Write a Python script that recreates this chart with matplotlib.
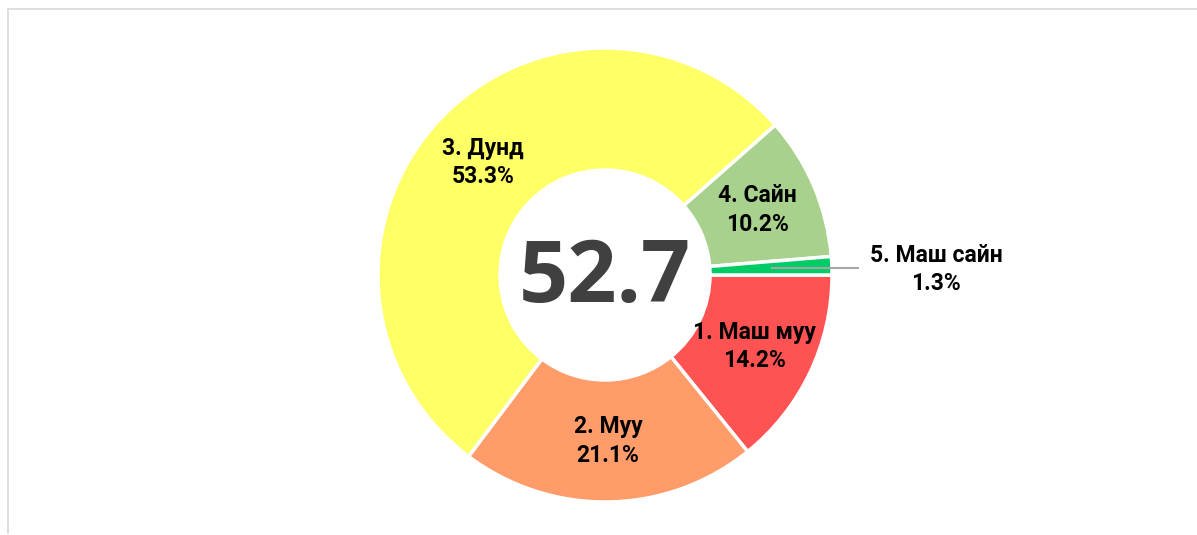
import numpy as np
import matplotlib
matplotlib.use("Agg")
import matplotlib.pyplot as plt
from matplotlib.lines import Line2D

categories = ["1. Маш муу", "2. Муу", "3. Дунд", "4. Сайн", "5. Маш сайн"]
values = [14.2, 21.1, 53.3, 10.2, 1.3]
pct_labels = ["14.2%", "21.1%", "53.3%", "10.2%", "1.3%"]
center_value = "52.7"
colors = ["#FF5252", "#FF9C6A", "#FFFF66", "#A9D18E", "#00CC66"]

W, H = 1197, 535
fig = plt.figure(figsize=(W / 100, H / 100), dpi=100)
fig.patch.set_facecolor("white")

# light frame lines (top and left)
fig.add_artist(Line2D([7.5 / W, 1], [1 - 8.5 / H, 1 - 8.5 / H], transform=fig.transFigure,
                      color="#D9D9D9", lw=1.2))
fig.add_artist(Line2D([7.5 / W, 7.5 / W], [1 - 8.5 / H, 2 / H], transform=fig.transFigure,
                      color="#D9D9D9", lw=1.2))

cx, cy, R = 605, 275, 227
ax = fig.add_axes([(cx - R) / W, (H - cy - R) / H, 2 * R / W, 2 * R / H])
inner = 105 / R
wedges, _ = ax.pie(values, colors=colors, startangle=0, counterclock=False,
                   radius=1, wedgeprops=dict(width=1 - inner, edgecolor="white", linewidth=2.5))
ax.set_xlim(-1, 1)
ax.set_ylim(-1, 1)
ax.set_aspect("equal")
ax.axis("off")

lbl_r = (1 + inner) / 2
font = dict(family=["Roboto", "DejaVu Sans"], fontsize=16.5, fontweight="bold", color="black")
for i, w in enumerate(wedges):
    ang = np.deg2rad((w.theta1 + w.theta2) / 2)
    x, y = lbl_r * np.cos(ang), lbl_r * np.sin(ang)
    txt = f"{categories[i]}\n{pct_labels[i]}"
    if values[i] < 3:
        ax.plot([x, 1.12], [y, y], color="#A6A6A6", lw=1.5, solid_capstyle="butt",
                clip_on=False, zorder=5)
        ax.text(1.46, y - 0.005, txt, ha="center", va="center", linespacing=1.3,
                clip_on=False, **font)
    else:
        ax.text(x, y, txt, ha="center", va="center", linespacing=1.3, **font)

ax.text(0, -0.02, center_value, ha="center", va="center", fontsize=62,
        family=["Open Sans", "DejaVu Sans"], fontweight="bold", color="#404040")

fig.savefig("out.png", dpi=100, facecolor="white")
